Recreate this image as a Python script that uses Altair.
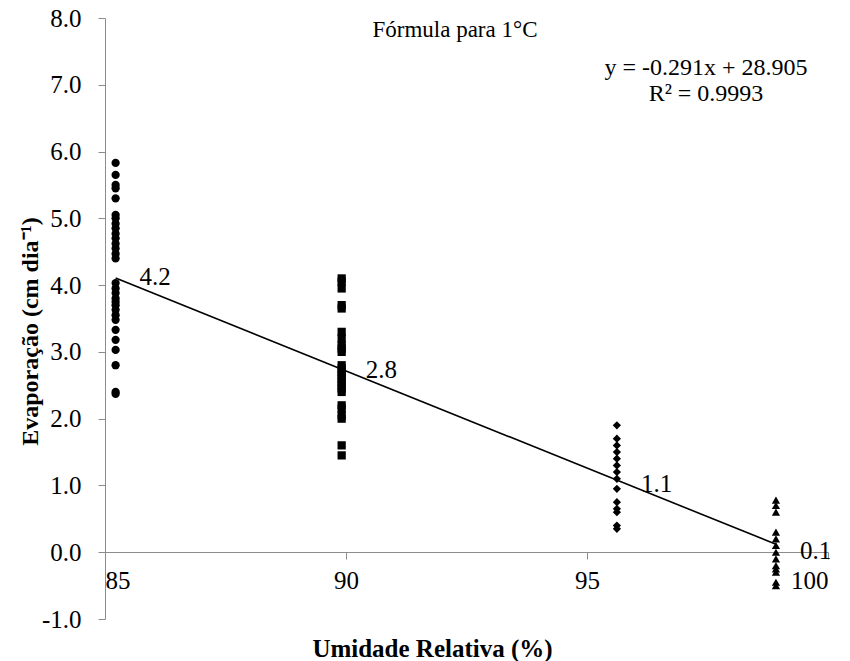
import altair as alt
import pandas as pd

# ---- data ----
group_x = [85.22, 89.91, 95.62, 98.92]          # Umidade Relativa (%) of each series
group_shape = ["circle", "square", "diamond", "triangle-up"]
circles_y = [5.83, 5.65, 5.50, 5.45, 5.30, 5.05, 5.00, 4.92, 4.85, 4.77, 4.70, 4.62, 4.55, 4.47, 4.40,
             4.03, 3.95, 3.88, 3.80, 3.75, 3.70, 3.63, 3.55, 3.48, 3.33, 3.18, 3.03, 2.80, 2.40, 2.37]
squares_y = [4.10, 4.05, 3.95, 3.70, 3.65, 3.30, 3.20, 3.10, 3.05, 3.00, 2.80, 2.75, 2.70, 2.65, 2.60,
             2.55, 2.50, 2.45, 2.40, 2.20, 2.15, 2.05, 2.00, 1.60, 1.45]
diamonds_y = [1.90, 1.70, 1.60, 1.50, 1.40, 1.30, 1.20, 1.10, 0.95, 0.75, 0.65, 0.60, 0.40, 0.35]
triangles_y = [0.78, 0.70, 0.60, 0.30, 0.20, 0.10, 0.00, -0.10, -0.20, -0.25, -0.30, -0.45, -0.50]
mean_labels = ["4.2", "2.8", "1.1", "0.1"]
mean_values = [4.2, 2.8, 1.1, 0.1]
slope = -0.291
intercept = 28.905
x_ticks = [85, 90, 95, 100]
y_ticks = [-1, 0, 1, 2, 3, 4, 5, 6, 7, 8]

rows = []
for gx, shp, ys in zip(group_x, group_shape, [circles_y, squares_y, diamonds_y, triangles_y]):
    for v in ys:
        rows.append({"x": gx, "y": v, "shape": shp})
pts = pd.DataFrame(rows)
lab = pd.DataFrame({"x": group_x, "y": mean_values, "t": mean_labels})
line_df = pd.DataFrame({"x": [min(group_x), max(group_x)]})

FONT = "Liberation Serif"
AX = "#8c8c8c"

xscale = alt.Scale(domain=[85, 100], nice=False, zero=False)
yscale = alt.Scale(domain=[-1, 8], nice=False, zero=False)

xaxis = alt.Axis(values=x_ticks, format="d", grid=False, offset=-67, domain=True,
                 domainColor=AX, tickColor=AX, tickSize=7, labelPadding=9,
                 labelFont=FONT, labelFontSize=25, labelColor="black",
                 title="Umidade Relativa (%)", titleFont=FONT, titleFontSize=25,
                 titleFontWeight="bold", titleColor="black", titleY=96, titleX=327,
                 titleAlign="center", titleBaseline="middle")
yaxis = alt.Axis(values=y_ticks, grid=False, domainColor=AX, tickColor=AX,
                 labelExpr="(datum.value < 0 ? '-' : '') + format(abs(datum.value), '.1f')",
                 tickSize=7, labelPadding=17, labelFont=FONT, labelFontSize=25,
                 labelColor="black", title="Evaporação (cm dia⁻¹)", titleFont=FONT,
                 titleFontSize=24, titleFontWeight="bold", titleColor="black",
                 titleX=-75, titleY=313, titleAngle=270, titleAlign="center",
                 titleBaseline="middle")

points = alt.Chart(pts).mark_point(filled=True, opacity=1, color="black", size=68).encode(
    x=alt.X("x:Q", scale=xscale, axis=xaxis),
    y=alt.Y("y:Q", scale=yscale, axis=yaxis),
    shape=alt.Shape("shape:N", scale=alt.Scale(domain=group_shape, range=group_shape), legend=None),
)

trend = alt.Chart(line_df).transform_calculate(
    y=f"{slope} * datum.x + {intercept}"
).mark_line(color="black", strokeWidth=1.6).encode(
    x=alt.X("x:Q", scale=xscale), y=alt.Y("y:Q", scale=yscale)
)

labels = alt.Chart(lab).mark_text(align="left", baseline="middle", dx=24, dy=5,
                                  font=FONT, fontSize=25, color="black").encode(
    x=alt.X("x:Q", scale=xscale), y=alt.Y("y:Q", scale=yscale), text="t:N"
)

def note(txt, px, py, size):
    return alt.Chart(pd.DataFrame({"t": [txt]})).mark_text(
        align="center", baseline="middle", font=FONT, fontSize=size, color="black"
    ).encode(x=alt.value(px), y=alt.value(py), text="t:N")

chart = alt.layer(
    trend, points, labels,
    note("Fórmula para 1°C", 350, 12, 23),
    note("y = -0.291x + 28.905", 601, 50, 24),
    note("R² = 0.9993", 601, 76, 24),
).properties(
    width=723, height=601,
    autosize=alt.AutoSizeParams(type="none"),
    padding={"left": 105, "top": 18, "right": 22, "bottom": 42},
).configure_view(stroke=None)

chart.save("out.html", embed_options={"renderer": "svg", "actions": False})
